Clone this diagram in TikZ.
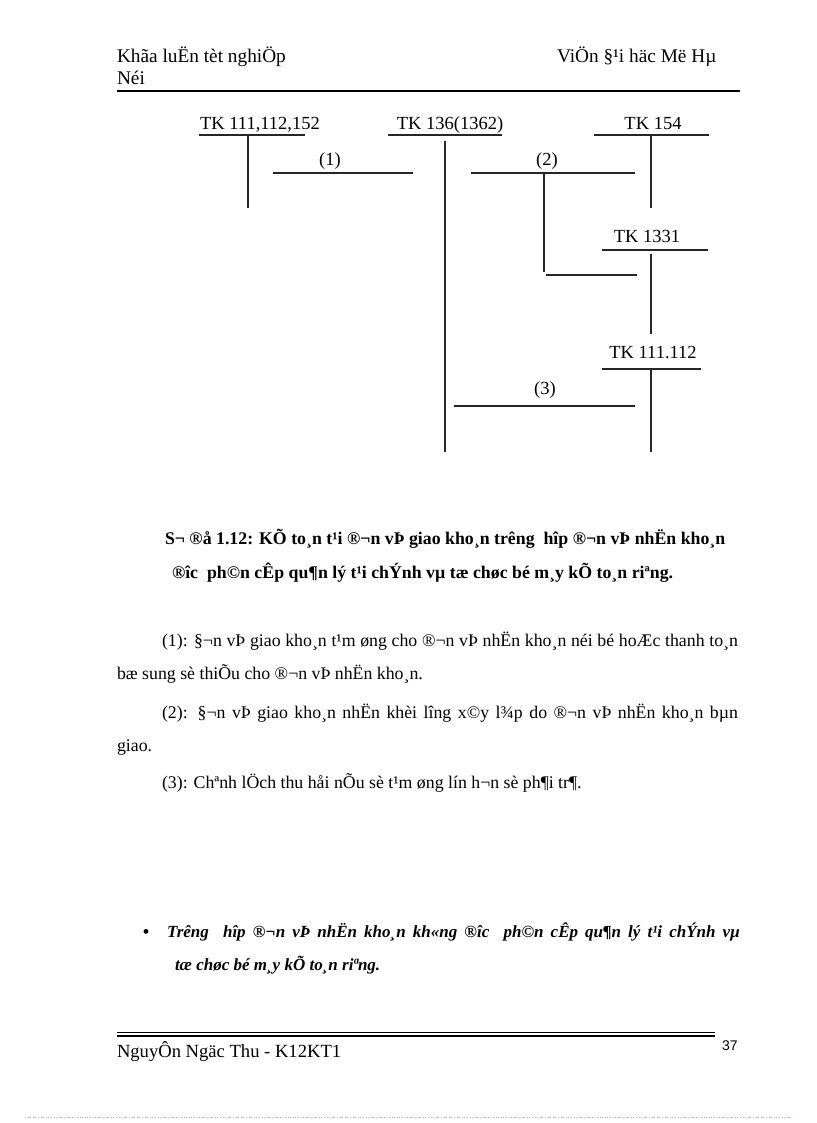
\documentclass[tikz,border=0pt]{standalone}
\usepackage{fontspec}
\setmainfont{Liberation Serif}
\newfontfamily\pagenofont{Liberation Sans}
\usetikzlibrary{positioning}

\begin{document}
\begin{tikzpicture}[x=1pt, y=-1pt,
  every node/.style={inner sep=0pt, outer sep=0pt, font=\fontsize{17.8}{20}\selectfont},
  txt/.style={anchor=base west},
  hdtxt/.style={anchor=base west, font=\fontsize{19.3}{22}\selectfont},
  acct/.style={anchor=base, font=\fontsize{18.5}{20}\selectfont},
  tline/.style={line width=1.2pt, black!85}]
\useasboundingbox (0,0) rectangle (816,1123);

% header
\node[hdtxt] (hdleft) at (117,63) {Khãa luËn tèt nghiÖp};
\node[hdtxt] (hdleft2) at (117,85) {Néi};
\node[hdtxt] (hdright) at (557,63) {ViÖn §¹i häc Më Hµ};
\draw[line width=2pt] (117,91) -- (740,91);

% accounts
\node[acct] (tkA) at (260,130) {TK 111,112,152};
\draw[tline] (199,135) -- (305,135);
\draw[tline] (248,135) -- (248,208);
\node[acct] (tkB) at (450,130) {TK 136(1362)};
\draw[tline] (388,135) -- (502,135);
\draw[tline] (445,141) -- (445,452);
\node[acct] (tkC) at (653,130) {TK 154};
\draw[tline] (594,135) -- (709,135);
\draw[tline] (651,135) -- (651,208);
\node[acct] (tkD) at (647,243) {TK 1331};
\draw[tline] (602,250) -- (708,250);
\draw[tline] (651,254) -- (651,334);
\node[acct] (tkE) at (653,358) {TK 111.112};
\draw[tline] (602,369) -- (701,369);
\draw[tline] (651,369) -- (651,452);

% flows
\coordinate (f1s) at (273,173);
\coordinate (f1e) at (413,173);
\node[acct] (lab1) at (330,166) {(1)};
\draw[tline] (f1s) -- (f1e);
\coordinate (f2s) at (471,173);
\coordinate (f2e) at (635,173);
\coordinate (f2m) at (544,173);
\coordinate (f2d) at (544,272);
\coordinate (f2bs) at (546,275);
\coordinate (f2be) at (637,275);
\node[acct] (lab2) at (547,166) {(2)};
\draw[tline] (f2s) -- (f2e);
\draw[tline] (f2m) -- (f2d);
\draw[tline] (f2bs) -- (f2be);
\coordinate (f3s) at (454,406);
\coordinate (f3e) at (635,406);
\node[acct] (lab3) at (545,394) {(3)};
\draw[tline] (f3s) -- (f3e);

% caption
\node[txt, font=\fontsize{17.8}{20}\selectfont\bfseries] (cap1) at (165,544) {S¬ ®å 1.12: KÕ to¸n t¹i ®¬n vÞ giao kho¸n trêng\ \ hîp ®¬n vÞ nhËn kho¸n};
\node[txt, font=\fontsize{17.8}{20}\selectfont\bfseries] (cap2) at (172,578) {®îc\ \ ph©n cÊp\ qu¶n lý t¹i chÝnh vµ tæ chøc bé m¸y kÕ to¸n riªng.};

% notes
\node[txt] (n1a) at (162,646) {\makebox[576pt][s]{(1): §¬n vÞ giao kho¸n t¹m øng cho ®¬n vÞ nhËn kho¸n néi bé hoÆc thanh to¸n}};
\node[txt] (n1b) at (117,679) {bæ sung sè thiÕu cho ®¬n vÞ nhËn kho¸n.};
\node[txt] (n2a) at (162,718) {\makebox[576pt][s]{(2): §¬n vÞ giao kho¸n nhËn khèi lîng x©y l¾p do ®¬n vÞ nhËn kho¸n bµn}};
\node[txt] (n2b) at (117,751) {giao.};
\node[txt] (n3) at (162,788) {(3): Chªnh lÖch thu håi nÕu sè t¹m øng lín h¬n sè ph¶i tr¶.};

% bullet
\node[anchor=base, font=\fontsize{20}{24}\selectfont] (dot) at (146,938) {\textbullet};
\node[txt, font=\fontsize{17}{20}\selectfont\bfseries\itshape] (bl1) at (167,937) {\makebox[573pt][s]{Trêng\ \ hîp ®¬n vÞ nhËn kho¸n kh«ng ®îc\ \ ph©n cÊp qu¶n lý t¹i chÝnh vµ}};
\node[txt, font=\fontsize{17}{20}\selectfont\bfseries\itshape] (bl2) at (175,970) {tæ chøc bé m¸y kÕ to¸n riªng.};

% footer
\draw[line width=0.8pt] (117,1032) -- (715,1032);
\draw[line width=1.6pt] (117,1036) -- (715,1036);
\node[txt, font=\fontsize{18.6}{22}\selectfont] (ftleft) at (117,1057) {NguyÔn Ngäc Thu - K12KT1};
\node[txt, font=\fontsize{14}{16}\pagenofont] (pageno) at (722,1050) {37};
\draw[gray!60, dotted, line width=0.6pt] (25,1117) -- (792,1117);
\end{tikzpicture}
\end{document}
